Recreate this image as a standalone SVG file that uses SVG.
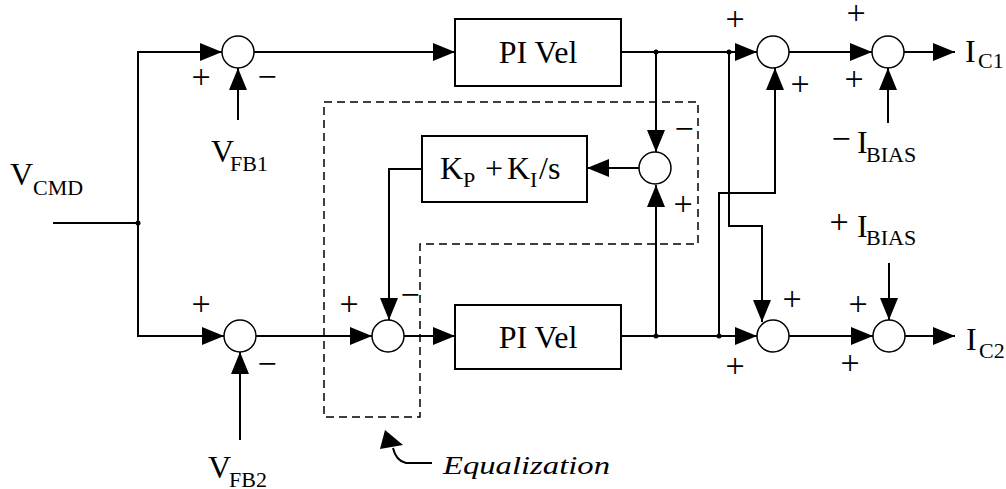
<svg xmlns="http://www.w3.org/2000/svg" width="1006" height="489" viewBox="0 0 1006 489">
<style>
.ln{fill:none;stroke:#000;stroke-width:2}
.ar{fill:none;stroke:#000;stroke-width:2;marker-end:url(#ah)}
.box{fill:#fff;stroke:#000;stroke-width:2}
.sum{fill:#fff;stroke:#000;stroke-width:1.5}
.dash{fill:none;stroke:#000;stroke-width:1.5;stroke-dasharray:8 5}
.dot{fill:#000}
.t{font-family:"Liberation Serif","Times New Roman",serif;font-size:32px;fill:#000}
.s{font-family:"Liberation Serif","Times New Roman",serif;font-size:22px;fill:#000}
.sg{font-family:"Liberation Serif","Times New Roman",serif;font-size:34px;fill:#000;text-anchor:middle}
.c{text-anchor:middle}
</style>
<defs>
<marker id="ah" viewBox="0 0 22 18" refX="22" refY="9" markerWidth="22" markerHeight="18" markerUnits="userSpaceOnUse" orient="auto">
<path d="M0,0 L22,9 L0,18 z" fill="#000"/>
</marker>
</defs>
<rect width="1006" height="489" fill="#fff"/>

<g id="equalization-box">
<path class="dash" d="M324,102 H698 V244 H420 V417 H324 Z"/>
</g>

<g id="connectors">
<path class="ln" d="M53,223 H138"/>
<path class="ar" d="M138,223 V52 H222"/>
<path class="ar" d="M138,223 V336 H224"/>
<path class="ar" d="M238,120 V68"/>
<path class="ar" d="M240,440 V352"/>
<path class="ar" d="M254,52 H455"/>
<path class="ar" d="M621,52 H757"/>
<path class="ar" d="M656,52 V152"/>
<path class="ar" d="M639,168 H587"/>
<path class="ar" d="M422,169 H389 V320"/>
<path class="ar" d="M256,336 H372"/>
<path class="ar" d="M404,336 H455"/>
<path class="ar" d="M621,336 H757"/>
<path class="ar" d="M656,336 V185"/>
<path class="ar" d="M729,52 V226 H762 V322"/>
<path class="ar" d="M719,336 V193 H775 V68"/>
<path class="ar" d="M789,52 H872"/>
<path class="ar" d="M789,336 H873"/>
<path class="ar" d="M904,52 H955"/>
<path class="ar" d="M905,336 H955"/>
<path class="ar" d="M888,123 V68"/>
<path class="ar" d="M889,263 V320"/>
<path class="ln" d="M432,463 L406,463 Q396,461 393,448"/>
<polygon points="385,430 380,449 403,445" fill="#000"/>
<circle class="dot" cx="138" cy="223" r="2.5"/>
<circle class="dot" cx="656" cy="52" r="2.5"/>
<circle class="dot" cx="729" cy="52" r="2.5"/>
<circle class="dot" cx="656" cy="336" r="2.5"/>
<circle class="dot" cx="719" cy="336" r="2.5"/>
</g>

<g id="pi-vel-1">
<rect class="box" x="455" y="19" width="166" height="67"/>
<text class="t c" x="538" y="63">PI Vel</text>
</g>
<g id="pi-vel-2">
<rect class="box" x="455" y="305" width="166" height="64"/>
<text class="t c" x="538" y="348">PI Vel</text>
</g>
<g id="kp-ki">
<rect class="box" x="422" y="136" width="165" height="66"/>
<text class="t" x="440" y="179">K<tspan class="s" x="463" y="187">P</tspan><tspan x="485" y="179">+</tspan><tspan x="507" y="179">K</tspan><tspan class="s" x="530" y="187">I</tspan><tspan x="539" y="179">/s</tspan></text>
</g>

<g id="sum1">
<circle class="sum" cx="238" cy="52" r="16"/>
<text class="sg" x="201" y="88">+</text>
<text class="sg" x="267" y="88">−</text>
</g>
<g id="sum1b">
<circle class="sum" cx="240" cy="336" r="16"/>
<text class="sg" x="201" y="315">+</text>
<text class="sg" x="267" y="375">−</text>
</g>
<g id="sum-eq">
<circle class="sum" cx="388" cy="336" r="16"/>
<text class="sg" x="349" y="315">+</text>
<text class="sg" x="410" y="306">−</text>
</g>
<g id="sum-diff">
<circle class="sum" cx="655" cy="168" r="16"/>
<text class="sg" x="684" y="140">−</text>
<text class="sg" x="683" y="215">+</text>
</g>
<g id="sum3">
<circle class="sum" cx="773" cy="52" r="16"/>
<text class="sg" x="735" y="30">+</text>
<text class="sg" x="800" y="95">+</text>
</g>
<g id="sum4">
<circle class="sum" cx="773" cy="336" r="16"/>
<text class="sg" x="792" y="310">+</text>
<text class="sg" x="735" y="377">+</text>
</g>
<g id="sum5">
<circle class="sum" cx="888" cy="52" r="16"/>
<text class="sg" x="856" y="24">+</text>
<text class="sg" x="854" y="90">+</text>
</g>
<g id="sum6">
<circle class="sum" cx="889" cy="336" r="16"/>
<text class="sg" x="858" y="315">+</text>
<text class="sg" x="850" y="374">+</text>
</g>

<g id="labels">
<text class="t" x="10" y="185">V<tspan class="s" x="33" y="195">CMD</tspan></text>
<text class="t" x="211" y="162">V<tspan class="s" x="230" y="171">FB1</tspan></text>
<text class="t" x="208" y="478">V<tspan class="s" x="229" y="487">FB2</tspan></text>
<text class="t" x="965" y="62">I<tspan class="s" x="978" y="68">C1</tspan></text>
<text class="t" x="966" y="350">I<tspan class="s" x="979" y="358">C2</tspan></text>
<text class="sg" x="841" y="150">−</text>
<text class="t" x="857" y="153">I<tspan class="s" x="866" y="162">BIAS</tspan></text>
<text class="sg" x="839" y="233">+</text>
<text class="t" x="857" y="237">I<tspan class="s" x="866" y="245">BIAS</tspan></text>
<text class="t" x="443" y="474" style="font-style:italic;font-size:25px" textLength="167" lengthAdjust="spacingAndGlyphs">Equalization</text>
</g>
</svg>
